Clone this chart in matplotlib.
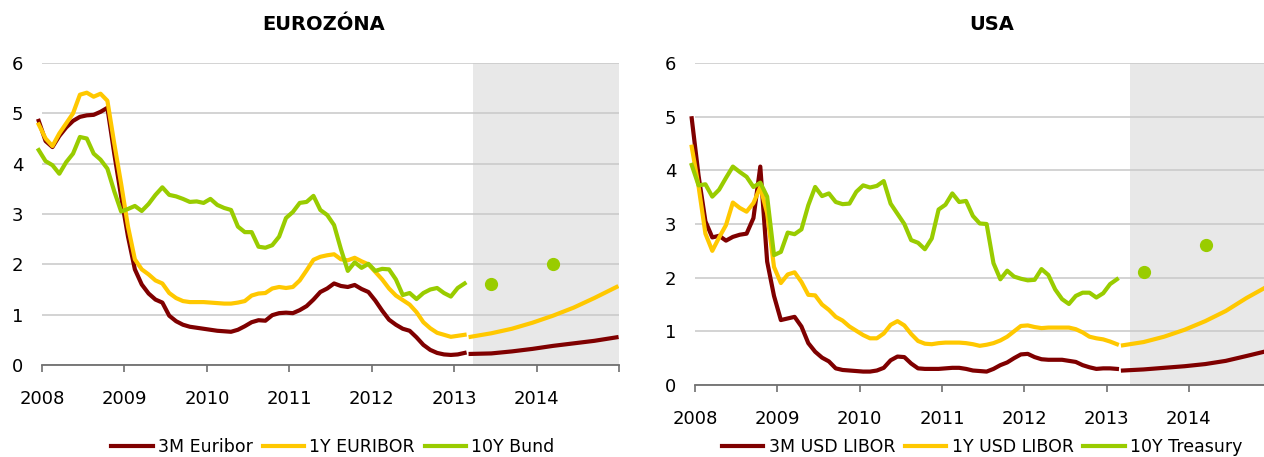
import numpy as np
import matplotlib
matplotlib.use("Agg")
import matplotlib.pyplot as plt
from matplotlib.lines import Line2D

plt.rcParams['font.family'] = ['DejaVu Sans']

# ---------------- DATA ----------------
# monthly history, Dec 2007 .. Feb 2013 (63 points)
eur_3m = [4.85, 4.45, 4.33, 4.55, 4.72, 4.85, 4.93, 4.96, 4.97, 5.03, 5.11, 4.20,
          3.35, 2.55, 1.90, 1.60, 1.42, 1.30, 1.24, 0.98, 0.87, 0.80, 0.76, 0.74,
          0.72, 0.70, 0.68, 0.67, 0.66, 0.70, 0.77, 0.85, 0.89, 0.88, 0.99, 1.03,
          1.04, 1.03, 1.09, 1.17, 1.30, 1.45, 1.52, 1.62, 1.57, 1.55, 1.59, 1.51,
          1.45, 1.28, 1.08, 0.90, 0.80, 0.72, 0.68, 0.55, 0.40, 0.30, 0.24, 0.21,
          0.20, 0.21, 0.24]
eur_1y = [4.78, 4.50, 4.35, 4.60, 4.80, 5.00, 5.37, 5.41, 5.33, 5.39, 5.25, 4.40,
          3.60, 2.75, 2.10, 1.90, 1.80, 1.68, 1.62, 1.43, 1.33, 1.27, 1.25, 1.25,
          1.25, 1.24, 1.23, 1.22, 1.22, 1.24, 1.27, 1.38, 1.42, 1.43, 1.52, 1.55,
          1.53, 1.55, 1.68, 1.88, 2.09, 2.15, 2.18, 2.20, 2.10, 2.08, 2.13, 2.06,
          2.00, 1.85, 1.70, 1.52, 1.38, 1.29, 1.20, 1.05, 0.85, 0.73, 0.64, 0.60,
          0.56, 0.58, 0.60]
eur_10y = [4.27, 4.05, 3.97, 3.80, 4.03, 4.20, 4.53, 4.50, 4.20, 4.08, 3.90, 3.45,
           3.05, 3.10, 3.16, 3.06, 3.20, 3.38, 3.53, 3.38, 3.35, 3.30, 3.24, 3.25,
           3.22, 3.30, 3.18, 3.12, 3.08, 2.75, 2.64, 2.64, 2.35, 2.33, 2.38, 2.55,
           2.92, 3.04, 3.22, 3.24, 3.36, 3.08, 2.98, 2.78, 2.30, 1.87, 2.04, 1.93,
           2.01, 1.87, 1.91, 1.90, 1.70, 1.39, 1.43, 1.31, 1.43, 1.50, 1.53, 1.43,
           1.36, 1.53, 1.62]

usa_3m = [4.97, 3.90, 3.05, 2.75, 2.78, 2.69, 2.76, 2.80, 2.82, 3.11, 4.07, 2.30,
          1.66, 1.21, 1.24, 1.27, 1.09, 0.78, 0.62, 0.51, 0.44, 0.31, 0.28, 0.27,
          0.26, 0.25, 0.25, 0.27, 0.32, 0.46, 0.53, 0.52, 0.40, 0.31, 0.30, 0.30,
          0.30, 0.31, 0.32, 0.32, 0.30, 0.27, 0.26, 0.25, 0.30, 0.37, 0.42, 0.50,
          0.57, 0.58, 0.52, 0.48, 0.47, 0.47, 0.47, 0.45, 0.43, 0.37, 0.33, 0.30,
          0.31, 0.31, 0.30]
usa_1y = [4.44, 3.70, 2.82, 2.50, 2.75, 2.98, 3.40, 3.30, 3.23, 3.39, 3.69, 3.20,
          2.20, 1.90, 2.06, 2.10, 1.92, 1.68, 1.67, 1.50, 1.40, 1.27, 1.20, 1.09,
          1.01, 0.93, 0.87, 0.87, 0.96, 1.12, 1.19, 1.11, 0.95, 0.82, 0.77, 0.76,
          0.78, 0.79, 0.79, 0.79, 0.78, 0.76, 0.73, 0.75, 0.78, 0.83, 0.90, 1.00,
          1.10, 1.11, 1.08, 1.06, 1.07, 1.07, 1.07, 1.07, 1.04, 0.98, 0.90, 0.87,
          0.85, 0.81, 0.76]
usa_10y = [4.10, 3.72, 3.74, 3.51, 3.64, 3.86, 4.07, 3.97, 3.88, 3.69, 3.77, 3.51,
           2.42, 2.48, 2.84, 2.81, 2.90, 3.35, 3.69, 3.52, 3.57, 3.41, 3.37, 3.38,
           3.60, 3.72, 3.68, 3.71, 3.80, 3.38, 3.19, 3.00, 2.70, 2.65, 2.53, 2.73,
           3.27, 3.36, 3.57, 3.41, 3.43, 3.15, 3.01, 3.00, 2.27, 1.97, 2.13, 2.02,
           1.98, 1.95, 1.96, 2.16, 2.05, 1.78, 1.60, 1.51, 1.66, 1.72, 1.72, 1.63,
           1.71, 1.88, 1.97]

# forecasts (quarterly readings)
fc_x = [2013.2, 2013.45, 2013.7, 2013.95, 2014.2, 2014.45, 2014.7, 2014.97]
eur_3m_fc = [0.22, 0.23, 0.27, 0.32, 0.38, 0.43, 0.48, 0.55]
eur_1y_fc = [0.56, 0.63, 0.72, 0.84, 0.98, 1.14, 1.33, 1.55]
usa_3m_fc = [0.27, 0.29, 0.32, 0.35, 0.39, 0.45, 0.54, 0.64]
usa_1y_fc = [0.74, 0.80, 0.90, 1.03, 1.19, 1.38, 1.62, 1.85]

eur_10y_pts_x = [2013.45, 2014.2]
eur_10y_pts = [1.6, 2.0]
usa_10y_pts_x = [2013.46, 2014.21]
usa_10y_pts = [2.1, 2.6]

years = [2008, 2009, 2010, 2011, 2012, 2013, 2014]
titles = ["EUROZÓNA", "USA"]
labels_eur = ["3M Euribor", "1Y EURIBOR", "10Y Bund"]
labels_usa = ["3M USD LIBOR", "1Y USD LIBOR", "10Y Treasury"]

# ---------------- STYLE ----------------
C_RED = "#7f0000"
C_YEL = "#ffc800"
C_GRN = "#99cc00"
LW = 3.0

W, H = 1264, 457
fig = plt.figure(figsize=(W / 100, H / 100), dpi=100)

def px_axes(l, r, b, t):
    return fig.add_axes([l / W, (H - b) / H, (r - l) / W, (b - t) / H])

x_hist = 2007.96 + np.arange(len(eur_3m)) / 12.0

def draw(ax, h3, h1, h10, f3, f1, px, pv, xmax, shade_start, labels, legend_cx, title, title_cx):
    ax.set_xlim(2008, xmax)
    ax.set_ylim(0, 6)
    ax.axvspan(shade_start, xmax + 1, color="#e8e8e8", zorder=0, lw=0)
    ax.set_axisbelow(True)
    ax.grid(axis="y", color="#c8c8c8", lw=1.1)
    ax.grid(axis="x", visible=False)
    for s in ["left", "right", "top"]:
        ax.spines[s].set_visible(False)
    ax.spines["bottom"].set_color("#707070")
    ax.spines["bottom"].set_linewidth(1.3)
    ax.set_yticks(range(0, 7))
    ax.tick_params(axis="y", length=0, pad=13.5, labelsize=13)
    xt = [y for y in range(2008, 2016) if y <= xmax + 1e-6]
    ax.set_xticks(xt)
    ax.set_xticklabels([str(y) if y in years else "" for y in xt])
    ax.tick_params(axis="x", direction="out", length=5, width=1.2, color="#707070",
                   pad=13, labelsize=13)
    l1, = ax.plot(x_hist, h3, color=C_RED, lw=LW, clip_on=False, solid_joinstyle="round")
    l2, = ax.plot(x_hist, h1, color=C_YEL, lw=LW, clip_on=False, solid_joinstyle="round")
    l3, = ax.plot(x_hist, h10, color=C_GRN, lw=LW, clip_on=False, solid_joinstyle="round")
    ax.plot(fc_x, f3, color=C_RED, lw=LW, solid_joinstyle="round")
    ax.plot(fc_x, f1, color=C_YEL, lw=LW, solid_joinstyle="round")
    ax.plot(px, pv, "o", color=C_GRN, ms=8.5, lw=0)
    handles = [Line2D([], [], color=c, lw=LW) for c in (C_RED, C_YEL, C_GRN)]
    fig.legend(handles, labels, loc="center", bbox_to_anchor=(legend_cx / W, (H - 447) / H),
               ncol=3, frameon=False, fontsize=12.5, handlelength=2.4, handletextpad=0.3,
               columnspacing=0.55, borderaxespad=0, borderpad=0)
    fig.text(title_cx / W, (H - 25) / H, title, ha="center", va="center",
             fontsize=14, fontweight="bold")

ax1 = px_axes(42, 619, 365, 63)
draw(ax1, eur_3m, eur_1y, eur_10y, eur_3m_fc, eur_1y_fc, eur_10y_pts_x, eur_10y_pts,
     2015.0, 2013.224, labels_eur, 333, titles[0], 324)

ax2 = px_axes(695, 1264, 385, 63)
draw(ax2, usa_3m, usa_1y, usa_10y, usa_3m_fc, usa_1y_fc, usa_10y_pts_x, usa_10y_pts,
     2008 + 569 / 82.3, 2013.285, labels_usa, 982, titles[1], 992)

fig.savefig("out.png", dpi=100)
